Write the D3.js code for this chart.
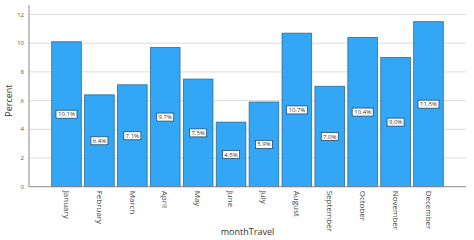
<!DOCTYPE html>
<html>
<head>
<meta charset="utf-8">
<script src="https://cdn.jsdelivr.net/npm/d3@7"></script>
<style>
  body { margin: 0; background: #fff; }
  svg { font-family: "Open Sans", sans-serif; }
</style>
</head>
<body>
<svg id="chart"></svg>
<script>
// data
const months = ["January", "February", "March", "April", "May", "June",
  "July", "August", "September", "October", "November", "December"];
const percents = [10.1, 6.4, 7.1, 9.7, 7.5, 4.5, 5.9, 10.7, 7.0, 10.4, 9.0, 11.5];
const yTicks = [0, 2, 4, 6, 8, 10, 12];

const width = 474, height = 240;
const margin = { top: 5, right: 8, bottom: 54, left: 29 };

const svg = d3.select("#chart")
  .attr("width", width)
  .attr("height", height);

const x = d3.scaleBand()
  .domain(months)
  .range([margin.left, width - margin.right])
  .paddingInner(0.1)
  .paddingOuter(0.69);

const y = d3.scaleLinear()
  .domain([0, 12])
  .range([186.7, 14.5]);

// gridlines
svg.append("g")
  .selectAll("line")
  .data(yTicks.slice(1))
  .join("line")
  .attr("x1", margin.left)
  .attr("x2", width - margin.right)
  .attr("y1", d => y(d))
  .attr("y2", d => y(d))
  .attr("stroke", "#dcdcdc")
  .attr("stroke-width", 1);

// y tick labels
svg.append("g")
  .selectAll("text")
  .data(yTicks)
  .join("text")
  .attr("x", margin.left - 5)
  .attr("y", d => y(d))
  .attr("dy", "0.35em")
  .attr("text-anchor", "end")
  .attr("font-size", 6)
  .attr("fill", "#555")
  .text(d => d);

// bars
svg.append("g")
  .selectAll("rect")
  .data(months)
  .join("rect")
  .attr("x", d => x(d))
  .attr("width", x.bandwidth())
  .attr("y", (d, i) => y(percents[i]))
  .attr("height", (d, i) => y(0) - y(percents[i]))
  .attr("fill", "#33a6f6")
  .attr("stroke", "#2b6d9c")
  .attr("stroke-width", 0.8);

// axes lines
svg.append("line")
  .attr("x1", margin.left).attr("x2", margin.left)
  .attr("y1", margin.top).attr("y2", y(0))
  .attr("stroke", "#888");
svg.append("line")
  .attr("x1", margin.left).attr("x2", width - margin.right)
  .attr("y1", y(0)).attr("y2", y(0))
  .attr("stroke", "#888");

// value labels
const labels = svg.append("g")
  .selectAll("g")
  .data(months)
  .join("g")
  .attr("transform", (d, i) =>
    `translate(${x(d) + x.bandwidth() / 2},${y(percents[i] / 2)})`);

labels.append("rect")
  .attr("x", (d, i) => percents[i] >= 10 ? -10.5 : -8.5)
  .attr("y", -4)
  .attr("width", (d, i) => percents[i] >= 10 ? 21 : 17)
  .attr("height", 8)
  .attr("fill", "#fff")
  .attr("stroke", "#1f4f74")
  .attr("stroke-width", 0.8);

labels.append("text")
  .attr("text-anchor", "middle")
  .attr("dy", "0.35em")
  .attr("font-size", 6)
  .attr("fill", "#333")
  .text((d, i) => percents[i].toFixed(1) + "%");

// x tick labels, rotated
svg.append("g")
  .selectAll("text")
  .data(months)
  .join("text")
  .attr("transform", d => `translate(${x(d) + x.bandwidth() / 2},${y(0) + 4}) rotate(90)`)
  .attr("dy", "0.35em")
  .attr("font-size", 8)
  .attr("fill", "#444")
  .text(d => d);

// axis titles
svg.append("text")
  .attr("transform", `translate(9,${(y(0) + y(12)) / 2}) rotate(-90)`)
  .attr("text-anchor", "middle")
  .attr("dy", "0.35em")
  .attr("font-size", 9)
  .attr("fill", "#333")
  .text("Percent");

svg.append("text")
  .attr("x", (margin.left + width - margin.right) / 2)
  .attr("y", 232)
  .attr("text-anchor", "middle")
  .attr("dy", "0.35em")
  .attr("font-size", 9)
  .attr("fill", "#333")
  .text("monthTravel");
</script>
</body>
</html>
